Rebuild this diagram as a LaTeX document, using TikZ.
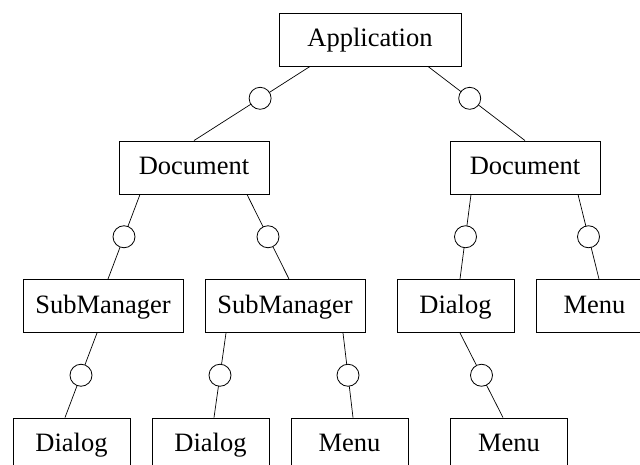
\documentclass[tikz,border=0pt]{standalone}
\usepackage{fontspec}
\setmainfont{Liberation Serif}

\begin{document}
\begin{tikzpicture}[x=1pt, y=-1pt]
\useasboundingbox (0,0) rectangle (640,465);
\clip (0,0) rectangle (640,465);

\tikzset{BoxStyle/.style = {
 draw,
 line width = 0.9pt,
 minimum height = 53pt,
 inner sep = 0pt,
 text height = 19pt,
 text depth = 5pt,
 font = \fontsize{26.5}{31}\selectfont} }

\node[BoxStyle, minimum width=182pt] (App) at (370, 39.5) {Application};
\node[BoxStyle, minimum width=150pt] (Doc1) at (194, 167.5) {Document};
\node[BoxStyle, minimum width=150pt] (Doc2) at (525, 167.5) {Document};
\node[BoxStyle, minimum width=160pt] (Sub1) at (103, 306) {SubManager};
\node[BoxStyle, minimum width=160pt] (Sub2) at (285, 306) {SubManager};
\node[BoxStyle, minimum width=117pt] (Dlg3) at (455.5, 306) {Dialog};
\node[BoxStyle, minimum width=117pt] (Menu3) at (594.5, 306) {Menu};
\node[BoxStyle, minimum width=117pt] (Dlg1) at (71.5, 444.5) {Dialog};
\node[BoxStyle, minimum width=117pt] (Dlg2) at (210.5, 444.5) {Dialog};
\node[BoxStyle, minimum width=117pt] (Menu1) at (349.5, 444.5) {Menu};
\node[BoxStyle, minimum width=117pt] (Menu2) at (509, 444.5) {Menu};


\tikzset{LinkStyle/.style = {line width=0.7pt} }
\tikzset{PortStyle/.style = {
 shape = circle,
 draw,
 fill = white,
 line width = 0.8pt,
 inner sep = 0pt,
 minimum size = 22pt} }

\draw[LinkStyle] ([xshift=-60pt]App.south) -- node[PortStyle, pos=0.43] {} (Doc1.north);
\draw[LinkStyle] ([xshift=58pt]App.south) -- node[PortStyle, pos=0.43] {} (Doc2.north);
\draw[LinkStyle] ([xshift=-54pt]Doc1.south) -- node[PortStyle] {} ([xshift=5pt]Sub1.north);
\draw[LinkStyle] ([xshift=53pt]Doc1.south) -- node[PortStyle] {} ([xshift=4pt]Sub2.north);
\draw[LinkStyle] ([xshift=-54pt]Doc2.south) -- node[PortStyle] {} ([xshift=4.5pt]Dlg3.north);
\draw[LinkStyle] ([xshift=53pt]Doc2.south) -- node[PortStyle] {} ([xshift=4.5pt]Menu3.north);
\draw[LinkStyle] ([xshift=-6pt]Sub1.south) -- node[PortStyle] {} ([xshift=-6.5pt]Dlg1.north);
\draw[LinkStyle] ([xshift=-59pt]Sub2.south) -- node[PortStyle] {} ([xshift=3.5pt]Dlg2.north);
\draw[LinkStyle] ([xshift=58pt]Sub2.south) -- node[PortStyle] {} ([xshift=3.5pt]Menu1.north);
\draw[LinkStyle] ([xshift=4.5pt]Dlg3.south) -- node[PortStyle] {} ([xshift=-6pt]Menu2.north);

\end{tikzpicture}
\end{document}
